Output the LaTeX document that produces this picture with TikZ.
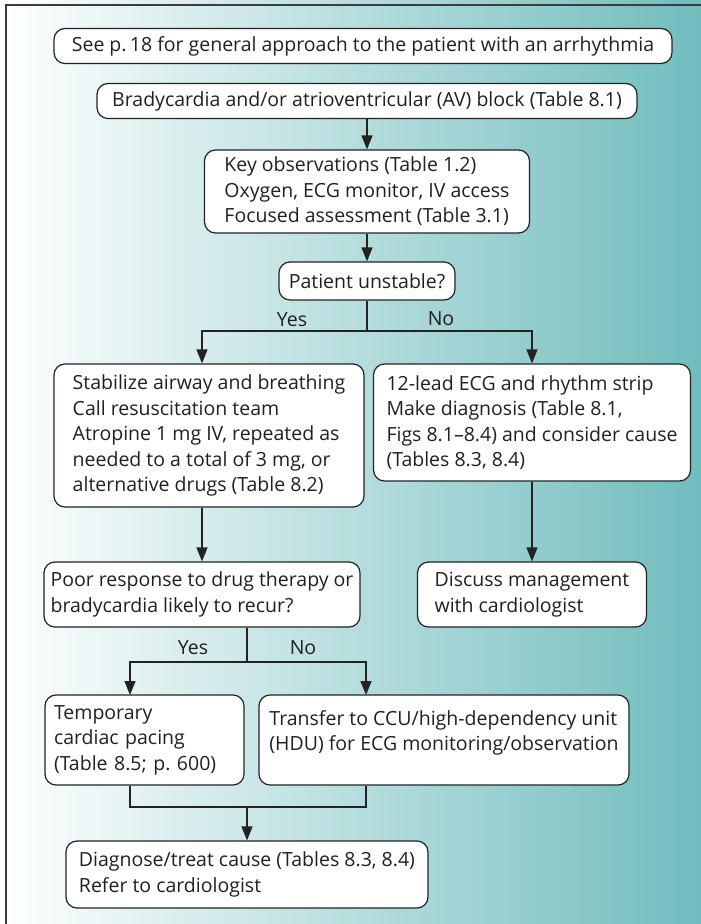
\documentclass[tikz,border=0pt]{standalone}
\usepackage{fontspec}
\setmainfont{Open Sans}
\usetikzlibrary{arrows.meta,calc}

\definecolor{bgteal}{RGB}{112,188,189}
\definecolor{inkline}{RGB}{35,35,35}
\definecolor{inktext}{RGB}{35,31,32}
\definecolor{framegray}{RGB}{60,60,60}

\tikzset{
  box/.style={draw=inkline, line width=1.2pt, rounded corners=11pt, fill=white,
    inner sep=0pt, font=\fontsize{19.5}{25.5}\selectfont, text=inktext},
  lbl/.style={font=\fontsize{19.5}{25.5}\selectfont, text=inktext, inner sep=0pt},
  con/.style={draw=inkline, line width=1.3pt},
  arr/.style={con, -{Triangle[width=11pt,length=14pt]}},
}

\begin{document}
\begin{tikzpicture}[x=1pt,y=-1pt]
\useasboundingbox (0,0) rectangle (701,924);
% background wash and frame
\fill[left color=white, right color=bgteal] (0,0) rectangle (701,924);
\draw[framegray, line width=1.5pt] (6,924) -- (6,5) -- (701,5);

% boxes
\node[box, minimum width=618pt, minimum height=35pt, align=center] (b1) at (363,46)
  {See p.\,18 for general approach to the patient with an arrhythmia};
\node[box, minimum width=540pt, minimum height=35pt, align=center] (b2) at (367,101)
  {Bradycardia and/or atrioventricular (AV) block (Table 8.1)};
\node[box, minimum width=325pt, minimum height=83pt, align=left] (b3) at (367,191.5)
  {Key observations (Table 1.2)\\Oxygen, ECG monitor, IV access\\Focused assessment (Table 3.1)};
\node[box, minimum width=176pt, minimum height=38pt, align=center] (b4) at (367,281)
  {Patient unstable?};
\node[box, minimum width=310pt, minimum height=143pt, align=left] (b5) at (209,435.5)
  {Stabilize airway and breathing\\Call resuscitation team\\Atropine 1 mg IV, repeated as\\needed to a total of 3 mg, or\\alternative drugs (Table 8.2)};
\node[box, minimum width=317pt, minimum height=117pt, align=left] (b6) at (532,422.5)
  {12-lead ECG and rhythm strip\\Make diagnosis (Table 8.1,\\Figs 8.1--8.4) and consider cause\\(Tables 8.3, 8.4)};
\node[box, minimum width=229pt, minimum height=65pt, align=left] (b7) at (532,594.5)
  {Discuss management\\with cardiologist};
\node[box, minimum width=316pt, minimum height=65pt, align=left] (b8) at (202,594.5)
  {Poor response to drug therapy or\\bradycardia likely to recur?};
\node[box, minimum width=199pt, minimum height=90pt, text width=181pt, align=left] (b9) at (144.5,740)
  {Temporary\\cardiac pacing\\(Table 8.5; p.\ 600)};
\node[box, minimum width=370pt, minimum height=90pt, text depth=19pt, align=left] (b10) at (444,740)
  {Transfer to CCU/high-dependency unit\\(HDU) for ECG monitoring/observation};
\node[box, minimum width=362pt, minimum height=67pt, align=left] (b11) at (247,874.5)
  {Diagnose/treat cause (Tables 8.3, 8.4)\\Refer to cardiologist};

% branch labels
\node[lbl] (yes1) at (292,320) {Yes};
\node[lbl] (no1) at (441,319) {No};
\node[lbl] (yes2) at (193,648) {Yes};
\node[lbl] (no2) at (303,648) {No};

% branch points
\coordinate (s1) at (367,331);
\coordinate (s2) at (247,662);
\coordinate (t9) at (130,695);
\coordinate (t10) at (366,695);
\coordinate (j) at (247,807);

% connectors
\draw[arr] (b2.south) -- (b3.north);
\draw[arr] (b3.south) -- (b4.north);
\draw[con] (b4.south) -- (s1);
\draw[arr] (s1) -| (b8.north |- b5.north);
\draw[arr] (s1) -| (b6.north);
\draw[arr] (b8.north |- b5.south) -- (b8.north);
\draw[arr] (b6.south) -- (b7.north);
\draw[con] (b11.north |- b8.south) -- (s2);
\draw[arr] (s2) -| (t9);
\draw[arr] (s2) -| (t10);
\draw[con] (t9 |- b9.south) |- (j) -| (t10 |- b10.south);
\draw[arr] (j) -- (b11.north);
\end{tikzpicture}
\end{document}
